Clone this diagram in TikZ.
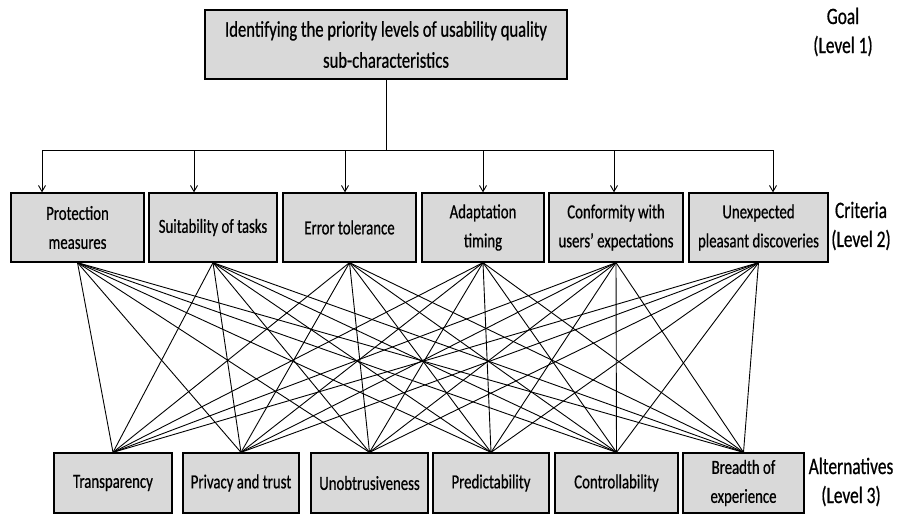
\documentclass[tikz,border=0pt]{standalone}
\usepackage{fontspec}
\setmainfont{Carlito}[FakeStretch=0.74, FakeBold=0.6]
\usetikzlibrary{arrows.meta,positioning,calc}
\tikzset{
  ahp/box/.style={draw, line width=1.3pt, fill=black!15, align=center, inner sep=2pt},
  ahp/goal/.style={ahp/box, minimum width=362pt, minimum height=69pt, font=\fontsize{22.5}{31}\selectfont},
  ahp/crit/.style={ahp/box, minimum height=69pt, font=\fontsize{20}{29}\selectfont},
  ahp/alt/.style={ahp/box, minimum height=60pt, font=\fontsize{20}{29}\selectfont},
  ahp/level/.style={align=center, font=\fontsize{23.5}{29}\selectfont},
  ahp/link/.style={line width=0.9pt},
  ahp/arrow/.style={line width=0.9pt, -{Straight Barb[length=6pt,width=7pt]}}
}

\begin{document}
\begin{tikzpicture}[x=1pt, y=-1pt]
\useasboundingbox (0,0) rectangle (904,515);

% goal
\node[ahp/goal] (goal) at (386,44.5) {Identifying the priority levels of usability quality\\sub-characteristics};

% criteria
\node[ahp/crit, minimum width=133pt] (c1) at (77.5,227.5) {Protection\\measures};
\node[ahp/crit, minimum width=128pt] (c2) at (213,227.5) {Suitability of tasks};
\node[ahp/crit, minimum width=133pt] (c3) at (349.5,227.5) {Error tolerance};
\node[ahp/crit, minimum width=122pt] (c4) at (483,227.5) {Adaptation\\timing};
\node[ahp/crit, minimum width=134pt] (c5) at (616,227.5) {Conformity with\\users' expectations};
\node[ahp/crit, minimum width=139pt] (c6) at (758.5,227.5) {Unexpected\\pleasant discoveries};

% alternatives
\node[ahp/alt, minimum width=118pt] (a1) at (113,483) {Transparency};
\node[ahp/alt, minimum width=116pt] (a2) at (241,483) {Privacy and trust};
\node[ahp/alt, minimum width=117pt] (a3) at (369.5,483) {Unobtrusiveness};
\node[ahp/alt, minimum width=116pt] (a4) at (491,483) {Predictability};
\node[ahp/alt, minimum width=123pt] (a5) at (616.5,483) {Controllability};
\node[ahp/alt, minimum width=121pt] (a6) at (743.5,483) {Breadth of\\experience};

% level labels
\node[ahp/level] (l1) at (843,32) {Goal\\(Level 1)};
\node[ahp/level] (l2) at (861,226) {Criteria\\(Level 2)};
\node[ahp/level] (l3) at (851,482) {Alternatives\\(Level 3)};

% goal to criteria
\foreach \i/\x in {1/42,2/194,3/345,4/483,5/614,6/773}{
  \coordinate (tap\i) at (\x,150);
  \draw[ahp/arrow] (tap\i) -- (tap\i |- c\i.north);
}
\draw[ahp/link] (tap1) -- (tap6);
\draw[ahp/link] (goal.south) -- (goal.south |- tap1);

% criteria to alternatives
\foreach \i in {1,...,6}
  \foreach \j in {1,...,6}
    \draw[ahp/link] (c\i.south) -- (a\j.north);

\end{tikzpicture}
\end{document}
